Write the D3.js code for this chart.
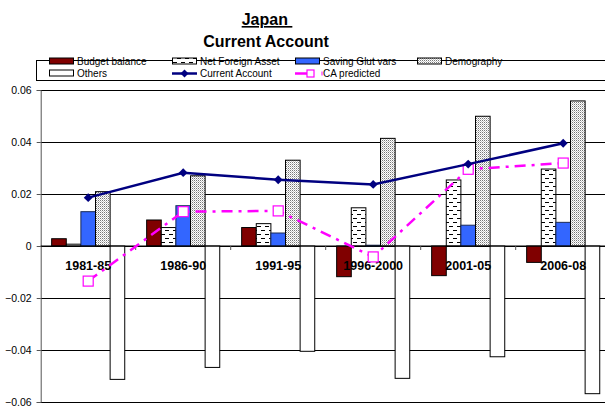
<!DOCTYPE html>
<html><head><meta charset="utf-8">
<script src="https://cdn.jsdelivr.net/npm/d3@7"></script>
<style>body{margin:0;background:#fff}svg{display:block;font-family:"Liberation Sans",Arial,sans-serif}</style>
</head><body><svg id="c" width="605" height="407"></svg>
<script>
const categories = ["1981-85","1986-90","1991-95","1996-2000","2001-05","2006-08"];
const budgetBalance = [0.0028, 0.0100, 0.0071, -0.0118, -0.0114, -0.0063];
const netForeignAsset = [0.0007, 0.0071, 0.0086, 0.0147, 0.0254, 0.0296];
const savingGlut = [0.0132, 0.0155, 0.0050, 0.0003, 0.0080, 0.0091];
const demography = [0.0209, 0.0270, 0.0330, 0.0414, 0.0499, 0.0558];
const others = [-0.0513, -0.0467, -0.0405, -0.0509, -0.0426, -0.0568];
const currentAccount = [0.0186, 0.0282, 0.0255, 0.0237, 0.0315, 0.0395];
const caPredicted = [-0.0135, 0.0132, 0.0135, -0.0042, 0.0295, 0.0319];
const yTicks = [0.06, 0.04, 0.02, 0, -0.02, -0.04, -0.06];

const svg = d3.select("#c");
const defs = svg.append("defs");
// NFA dashed pattern
const p1 = defs.append("pattern").attr("id","nfa").attr("patternUnits","userSpaceOnUse").attr("width",8).attr("height",8);
p1.append("rect").attr("width",8).attr("height",8).attr("fill","#fff");
p1.append("line").attr("x1",1).attr("x2",5).attr("y1",2.5).attr("y2",2.5).attr("stroke","#000").attr("stroke-width",1);
p1.append("line").attr("x1",5).attr("x2",9).attr("y1",6.5).attr("y2",6.5).attr("stroke","#000").attr("stroke-width",1);
p1.append("line").attr("x1",-3).attr("x2",1).attr("y1",6.5).attr("y2",6.5).attr("stroke","#000").attr("stroke-width",1);
// Demography dotted pattern
const p2 = defs.append("pattern").attr("id","demo").attr("patternUnits","userSpaceOnUse").attr("width",2).attr("height",2);
p2.append("rect").attr("width",2).attr("height",2).attr("fill","#fff");
p2.append("rect").attr("width",1).attr("height",1).attr("fill","#777");
p2.append("rect").attr("x",1).attr("y",1).attr("width",1).attr("height",1).attr("fill","#c4c4c4");

const pLeft = 40.7, pRight = 610.7, pTop = 90, pBottom = 402;
const x = d3.scaleBand().domain(categories).range([pLeft, pRight]).paddingInner(0).paddingOuter(0);
const y = d3.scaleLinear().domain([-0.06, 0.06]).range([pBottom, pTop]);

// Title
svg.append("text").attr("x",267).attr("y",25).attr("text-anchor","middle").attr("font-size",16).attr("font-weight","bold")
  .attr("text-decoration","underline").style("white-space","pre").text("Japan\u00a0");
svg.append("text").attr("x",266).attr("y",47).attr("text-anchor","middle").attr("font-size",16).attr("font-weight","bold").text("Current Account");

// Grid
svg.append("g").selectAll("line").data(yTicks).join("line")
  .attr("x1",pLeft).attr("x2",605).attr("y1",d=>Math.round(y(d))+0.5).attr("y2",d=>Math.round(y(d))+0.5)
  .attr("stroke","#000").attr("stroke-width",1);

// Y axis
const ya = svg.append("g").attr("transform",`translate(${pLeft},0)`)
  .call(d3.axisLeft(y).tickValues(yTicks).tickSize(4).tickPadding(5).tickFormat(d=>d===0?"0":d3.format(".2f")(d)));
ya.select(".domain").attr("stroke","#555");
ya.selectAll(".tick line").attr("stroke","#555");
ya.selectAll("text").attr("font-size",10.5).attr("fill","#000").attr("font-family","Liberation Sans, Arial, sans-serif");

// Bars
const series = [
  {name:"Budget balance", vals:budgetBalance, fill:"#800000", stroke:"#000"},
  {name:"Net Foreign Asset", vals:netForeignAsset, fill:"url(#nfa)", stroke:"#000"},
  {name:"Saving Glut vars", vals:savingGlut, fill:"#3366FF", stroke:"#1a2a55"},
  {name:"Demography", vals:demography, fill:"url(#demo)", stroke:"#000"},
  {name:"Others", vals:others, fill:"#fff", stroke:"#000"}
];
const inner = d3.scaleBand().domain(d3.range(series.length)).range([0, x.bandwidth()]).paddingOuter(0.75).paddingInner(0);
series.forEach((s,i)=>{
  svg.append("g").selectAll("rect").data(s.vals).join("rect")
    .attr("x",(d,j)=>x(categories[j])+inner(i))
    .attr("width",inner.bandwidth())
    .attr("y",d=>Math.min(y(d),y(0)))
    .attr("height",d=>Math.abs(y(d)-y(0)))
    .attr("fill",s.fill).attr("stroke",s.stroke).attr("stroke-width",1);
});

// Zero axis line + category ticks
svg.append("line").attr("x1",pLeft).attr("x2",605).attr("y1",y(0)).attr("y2",y(0)).attr("stroke","#000");
svg.append("g").selectAll("line").data(categories.slice(1)).join("line")
  .attr("x1",d=>x(d)).attr("x2",d=>x(d)).attr("y1",y(0)).attr("y2",y(0)+4).attr("stroke","#555");

// Category labels
svg.append("g").selectAll("text").data(categories).join("text")
  .attr("x",d=>x(d)+x.bandwidth()/2).attr("y",y(0)+24)
  .attr("text-anchor","middle").attr("font-size",12.5).attr("font-weight","bold").text(d=>d);

const cx = (d,j)=>x(categories[j])+x.bandwidth()/2;
// CA predicted
svg.append("path").datum(caPredicted)
  .attr("d",d3.line().x(cx).y(d=>y(d)))
  .attr("fill","none").attr("stroke","#FF00FF").attr("stroke-width",2.5).attr("stroke-dasharray","11,6,3,6");
svg.append("g").selectAll("rect").data(caPredicted).join("rect")
  .attr("x",(d,j)=>cx(d,j)-5).attr("y",d=>y(d)-5).attr("width",10).attr("height",10)
  .attr("fill","#fff").attr("stroke","#FF00FF").attr("stroke-width",1.2);

// Current account
svg.append("path").datum(currentAccount)
  .attr("d",d3.line().x(cx).y(d=>y(d)))
  .attr("fill","none").attr("stroke","#000080").attr("stroke-width",2.5);
svg.append("g").selectAll("path").data(currentAccount).join("path")
  .attr("transform",(d,j)=>`translate(${cx(d,j)},${y(d)})`)
  .attr("d",d3.symbol(d3.symbolDiamond2,50)).attr("fill","#000080");

// Legend
svg.append("rect").attr("x",36.5).attr("y",60.5).attr("width",600).attr("height",20).attr("fill","#fff").attr("stroke","#000");
const leg = [
  {t:"Budget balance", type:"bar", fill:"#800000", col:0,row:0},
  {t:"Net Foreign Asset", type:"bar", fill:"url(#nfa)", col:1,row:0},
  {t:"Saving Glut vars", type:"bar", fill:"#3366FF", col:2,row:0},
  {t:"Demography", type:"bar", fill:"url(#demo)", col:3,row:0},
  {t:"Others", type:"bar", fill:"#fff", col:0,row:1},
  {t:"Current Account", type:"ca", col:1,row:1},
  {t:"CA predicted", type:"pred", col:2,row:1}
];
const colX = [49, 172, 295, 417];
leg.forEach(l=>{
  const lx = colX[l.col], ly = l.row===0 ? 61.5 : 73.5;
  if(l.type==="bar"){
    svg.append("rect").attr("x",lx+0.5).attr("y",ly-3.5).attr("width",24).attr("height",6).attr("fill",l.fill).attr("stroke","#000");
  } else if(l.type==="ca"){
    svg.append("line").attr("x1",lx).attr("x2",lx+25).attr("y1",ly).attr("y2",ly).attr("stroke","#000080").attr("stroke-width",2.5);
    svg.append("path").attr("transform",`translate(${lx+12.5},${ly})`).attr("d",d3.symbol(d3.symbolDiamond2,40)).attr("fill","#000080");
  } else {
    svg.append("line").attr("x1",lx).attr("x2",lx+14).attr("y1",ly).attr("y2",ly).attr("stroke","#FF00FF").attr("stroke-width",2.5);
    svg.append("rect").attr("x",lx+12).attr("y",ly-3.5).attr("width",7).attr("height",7).attr("fill","#fff").attr("stroke","#FF00FF").attr("stroke-width",1.2);
    svg.append("line").attr("x1",lx+27).attr("x2",lx+27).attr("y1",ly-2).attr("y2",ly+2).attr("stroke","#FF00FF").attr("stroke-width",1);
  }
  svg.append("text").attr("x",lx+28).attr("y",ly+3.6).attr("font-size",10).text(l.t);
});
</script></body></html>
